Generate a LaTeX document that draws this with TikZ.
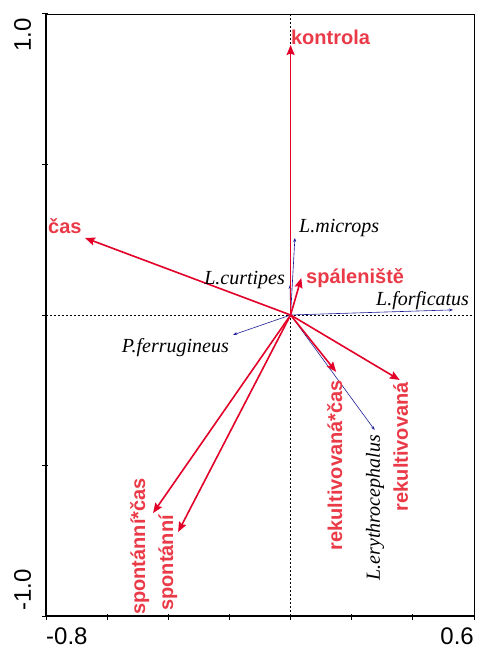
\documentclass[tikz,border=0pt]{standalone}
\usepackage{fontspec}
\setmainfont{Liberation Serif}
\setsansfont{Liberation Sans}
\usetikzlibrary{arrows.meta}
\definecolor{envred}{RGB}{226,0,40}
\definecolor{labred}{RGB}{234,58,72}
\definecolor{spblue}{RGB}{30,30,150}

\begin{document}
\begin{tikzpicture}[x=305.7pt, y=301pt,
    envvec/.style={draw=envred, line width=1.6pt, -{Stealth[length=10pt, width=8pt, inset=1.5pt]}},
    spvec/.style={draw=spblue, line width=0.6pt, -{Stealth[length=4pt, width=3pt]}},
    envlabel/.style={text=labred, font=\sffamily\bfseries\fontsize{20}{24}\selectfont, inner sep=0pt},
    splabel/.style={font=\itshape\fontsize{20}{24}\selectfont, inner sep=0pt},
    axlabel/.style={font=\sffamily\fontsize{24}{28}\selectfont, inner sep=0pt}]
    \useasboundingbox (-0.9506,-1.1063) rectangle (0.6065,1.0465);

    % zero lines
    \draw[dash pattern=on 2pt off 2pt, line width=0.5pt] (-0.8,0) -- (0.6,0);
    \draw[dash pattern=on 2pt off 2pt, line width=0.5pt] (0,-1) -- (0,1);

    % frame and ticks
    \draw[line width=0.9pt] (-0.8,1) -- (0.6,1) -- (0.6,-1);
    \draw[line width=1.6pt] (-0.8,1) -- (-0.8,-1) -- (0.6,-1);
    \foreach \y in {-1,-0.5,0,0.5,1}
        \draw[line width=1pt] (-0.8,\y) ++(-4pt,0) -- ++(6pt,0);
    \foreach \x in {-0.8,-0.6,-0.4,-0.2,0,0.2,0.4,0.6}
        \draw[line width=1pt] (\x,-1) ++(0,2pt) -- ++(0,-6pt);

    \node[axlabel, rotate=90] (ytop) at (-0.877,0.930) {1.0};
    \node[axlabel, rotate=90] (ybot) at (-0.877,-0.914) {-1.0};
    \node[axlabel, anchor=west] (xleft) at (-0.8,-1.068) {-0.8};
    \node[axlabel, anchor=east] (xright) at (0.6,-1.068) {0.6};

    % origin and vector ends
    \coordinate (o) at (0,0);
    \coordinate (kon) at (0,0.897);
    \coordinate (cas) at (-0.6726,0.256);
    \coordinate (spal) at (0.035,0.123);
    \coordinate (rekc) at (0.149,-0.189);
    \coordinate (rek) at (0.357,-0.216);
    \coordinate (spoc) at (-0.450,-0.658);
    \coordinate (spo) at (-0.368,-0.721);
    \coordinate (lmic) at (0.014,0.256);
    \coordinate (lcur) at (-0.002,0.100);
    \coordinate (lfor) at (0.531,0.017);
    \coordinate (pfer) at (-0.188,-0.066);
    \coordinate (lery) at (0.275,-0.382);

    % species
    \draw[spvec] (o) -- (lmic);
    \draw[spvec] (o) -- (lcur);
    \draw[spvec] (o) -- (lfor);
    \draw[spvec] (o) -- (pfer);
    \draw[spvec] (o) -- (lery);

    % environmental variables
    \draw[envvec] (o) -- (kon);
    \draw[envvec] (o) -- (cas);
    \draw[envvec] (o) -- (spal);
    \draw[envvec] (o) -- (rekc);
    \draw[envvec] (o) -- (rek);
    \draw[envvec] (o) -- (spoc);
    \draw[envvec] (o) -- (spo);

    \node[envlabel, anchor=base west] (kon-l) at (0.001,0.900) {kontrola};
    \node[envlabel, anchor=base west] (cas-l) at (-0.7936,0.2724) {čas};
    \node[envlabel, anchor=base west] (spal-l) at (0.0504,0.103) {spáleniště};
    \node[envlabel, anchor=base east, rotate=90] (rekc-l) at (0.1688,-0.2159) {rekultivovaná*čas};
    \node[envlabel, anchor=base east, rotate=90] (rek-l) at (0.3840,-0.2226) {rekultivovaná};
    \node[envlabel, anchor=base east, rotate=90] (spoc-l) at (-0.4760,-0.5415) {spontánní*čas};
    \node[envlabel, anchor=base east, rotate=90] (spo-l) at (-0.3840,-0.6645) {spontánní};

    \node[splabel, anchor=base west] (lmic-l) at (0.0275,0.2757) {L.microps};
    \node[splabel, anchor=base east] (lcur-l) at (-0.0183,0.0997) {L.curtipes};
    \node[splabel, anchor=base west] (lfor-l) at (0.2794,0.0332) {L.forficatus};
    \node[splabel, anchor=base east] (pfer-l) at (-0.2015,-0.1262) {P.ferrugineus};
    \node[splabel, anchor=base east, rotate=90] (lery-l) at (0.2924,-0.3987) {L.erythrocephalus};
\end{tikzpicture}
\end{document}
